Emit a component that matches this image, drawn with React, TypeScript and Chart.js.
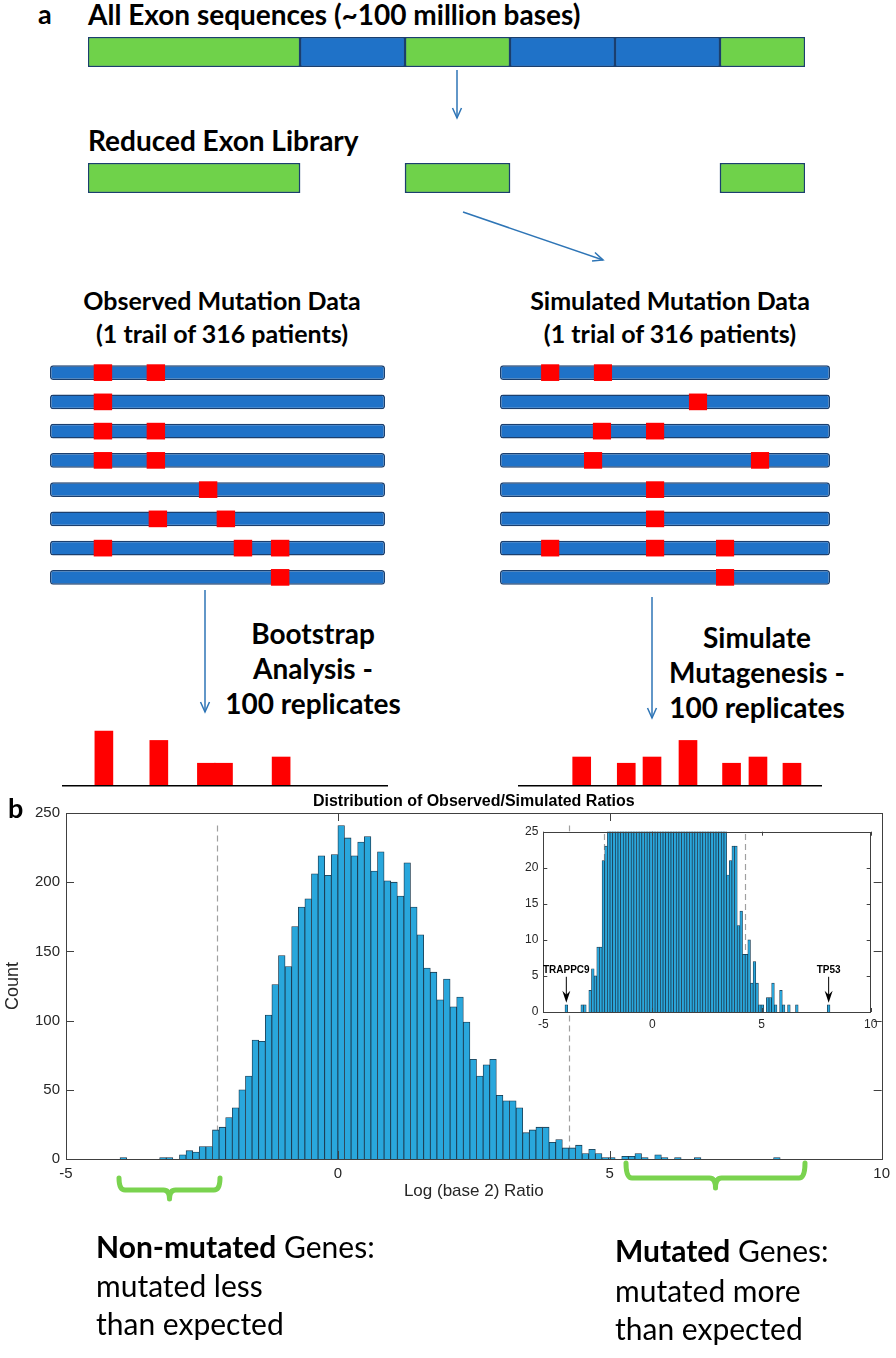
import React, { useEffect, useRef } from "react";
import { Chart, registerables } from "chart.js";
Chart.register(...registerables);

const FONT_PLOT = "'Liberation Sans', Arial, Helvetica, sans-serif";
const FONT_DIAG = "Lato, 'Open Sans', sans-serif";

// ---------- Panel a data ----------
const exonSegmentLengths = [2.02, 1, 1, 1, 1, 0.81];
const exonSegmentKept = [true, false, true, false, false, true];
const patientRows = ["1", "2", "3", "4", "5", "6", "7", "8"];
const observedMutations = [
  [15.8, 31.6], [15.8], [15.8, 31.6], [15.8, 31.6], [47.2], [32.2, 52.5], [15.8, 57.6, 68.7], [68.7],
];
const simulatedMutations = [
  [15.2, 31.2], [60], [30.9, 47], [28.2, 78.8], [47], [47], [15.2, 47, 68.2], [68.2],
];
const mutationWidth = 5.5;
const bootstrapPositions = [16.1, 32.5, 46.7, 51.8, 69];
const bootstrapHeights = [52, 43, 21, 21, 27];
const simulatedPositions = [24.8, 38.3, 46.1, 57, 70.2, 78.2, 88.5];
const simulatedHeights = [27, 21, 27, 43, 21, 27, 21];

// ---------- Panel b data ----------
const histBinStart = -4.0062;
const histBinWidth = 0.1214;
const histCounts = [
  1, 0, 0, 0, 0, 0, 1, 1, 0, 3,
  6, 5, 9, 9, 21, 23, 30, 37, 50, 60,
  86, 85, 104, 126, 147, 139, 168, 182, 188, 206,
  219, 205, 220, 241, 232, 219, 229, 233, 208, 222,
  201, 200, 190, 214, 182, 162, 138, 135, 115, 130,
  110, 117, 99, 72, 60, 68, 72, 46, 42, 42,
  37, 19, 21, 23, 23, 12, 14, 8, 8, 10,
  4, 7, 4, 1, 1, 0, 2, 2, 4, 1,
  0, 3, 1, 0, 1, 0, 0, 1, 0, 0,
  0, 0, 0, 0, 0, 0, 0, 0, 0, 1,
];
const thresholds = [-2.225, 4.25];
const thresholdTop = 241;
const xTickValues = [-5, 0, 5, 10];
const yTicksMain = [0, 50, 100, 150, 200, 250];
const yTicksInset = [0, 5, 10, 15, 20, 25];
const insetGenes = ["TRAPPC9", "TP53"];
const insetGeneBins = [0, 99];

const GREEN = "#6fd24a";
const BLUE = "#1f72c8";
const DARK = "#1b3f6e";
const RED = "#ff0000";
const ARROW = "#2e75b6";
const BAR = "#29a7dc";
const BAR_EDGE = "#1b3346";
const AX = "#404040";

const binCenters = histCounts.map((_, i) => histBinStart + (i + 0.5) * histBinWidth);

function ChartCanvas({ left, top, width, height, make }: any) {
  const ref = useRef<HTMLCanvasElement>(null);
  useEffect(() => {
    const chart = new Chart(ref.current as HTMLCanvasElement, make());
    return () => chart.destroy();
  }, []);
  return (
    <canvas
      ref={ref}
      width={width}
      height={height}
      style={{ position: "absolute", left, top, width, height }}
    />
  );
}

const baseOpts = {
  animation: false,
  responsive: false,
  events: [],
  plugins: { legend: { display: false }, tooltip: { enabled: false }, title: { display: false } },
};

function exonConfig(reduced: boolean) {
  const total = exonSegmentLengths.reduce((a, b) => a + b, 0);
  return {
    type: "bar",
    data: {
      labels: ["exons"],
      datasets: exonSegmentLengths.map((len, i) => {
        const show = exonSegmentKept[i] || !reduced;
        return {
          data: [len],
          backgroundColor: show ? (exonSegmentKept[i] ? GREEN : BLUE) : "rgba(0,0,0,0)",
          borderColor: DARK,
          borderWidth: show ? 1.5 : 0,
          borderSkipped: false,
          barPercentage: 1,
          categoryPercentage: 1,
        };
      }),
    },
    options: {
      ...baseOpts,
      indexAxis: "y",
      layout: { padding: 0 },
      scales: {
        x: { stacked: true, display: false, min: 0, max: total, offset: false },
        y: { stacked: true, display: false },
      },
    },
  };
}

function rowsConfig(mutations: number[][]) {
  const mutData: any[] = [];
  mutations.forEach((list, r) =>
    list.forEach((c) => mutData.push({ y: patientRows[r], x: [c - mutationWidth / 2, c + mutationWidth / 2] }))
  );
  return {
    type: "bar",
    data: {
      labels: patientRows,
      datasets: [
        {
          data: mutData,
          backgroundColor: RED,
          borderWidth: 0,
          barPercentage: 1,
          categoryPercentage: 0.57,
          grouped: false,
          order: 0,
        },
        {
          data: patientRows.map((r) => ({ y: r, x: [0, 100] })),
          backgroundColor: BLUE,
          borderColor: DARK,
          borderWidth: 1.5,
          borderRadius: 3,
          borderSkipped: false,
          barPercentage: 1,
          categoryPercentage: 0.5,
          grouped: false,
          order: 1,
        },
      ],
    },
    options: {
      ...baseOpts,
      indexAxis: "y",
      layout: { padding: 0 },
      scales: {
        x: { type: "linear", display: false, min: 0, max: 100, offset: false },
        y: { type: "category", display: false },
      },
    },
  };
}

const baselinePlugin = {
  id: "baseline",
  afterDraw(chart: any) {
    const { ctx, chartArea, width } = chart;
    ctx.save();
    ctx.strokeStyle = "#000";
    ctx.lineWidth = 1.5;
    ctx.beginPath();
    ctx.moveTo(0, chartArea.bottom + 0.75);
    ctx.lineTo(width, chartArea.bottom + 0.75);
    ctx.stroke();
    ctx.restore();
  },
};

function smallBarsConfig(pos: number[], h: number[], min: number, max: number) {
  return {
    type: "bar",
    data: {
      datasets: [
        {
          data: pos.map((x, i) => ({ x, y: h[i] })),
          backgroundColor: RED,
          borderWidth: 0,
          barThickness: 18,
        },
      ],
    },
    options: {
      ...baseOpts,
      layout: { padding: { top: 0, bottom: 2, left: 0, right: 0 } },
      scales: {
        x: { type: "linear", display: false, min, max, offset: false },
        y: { display: false, min: 0, max: 55 },
      },
    },
    plugins: [baselinePlugin],
  };
}

function drawBoxTicks(chart: any, xt: number[], yt: number[], len: number) {
  const { ctx, chartArea: a, scales } = chart;
  ctx.save();
  ctx.strokeStyle = AX;
  ctx.lineWidth = 1;
  ctx.strokeRect(Math.round(a.left) + 0.5, Math.round(a.top) + 0.5, Math.round(a.right - a.left), Math.round(a.bottom - a.top));
  ctx.beginPath();
  xt.forEach((v) => {
    const px = Math.round(scales.x.getPixelForValue(v)) + 0.5;
    ctx.moveTo(px, a.bottom);
    ctx.lineTo(px, a.bottom - len);
    ctx.moveTo(px, a.top);
    ctx.lineTo(px, a.top + len);
  });
  yt.forEach((v) => {
    const py = Math.round(scales.y.getPixelForValue(v)) + 0.5;
    ctx.moveTo(a.left, py);
    ctx.lineTo(a.left + len, py);
    ctx.moveTo(a.right, py);
    ctx.lineTo(a.right - len, py);
  });
  ctx.stroke();
  ctx.restore();
}

function drawThresholds(chart: any) {
  const { ctx, chartArea: a, scales } = chart;
  ctx.save();
  ctx.beginPath();
  ctx.rect(a.left, a.top, a.right - a.left, a.bottom - a.top);
  ctx.clip();
  ctx.strokeStyle = "#a0a0a0";
  ctx.lineWidth = 1.2;
  ctx.setLineDash([6, 4]);
  thresholds.forEach((t) => {
    const px = Math.round(scales.x.getPixelForValue(t)) + 0.5;
    ctx.beginPath();
    ctx.moveTo(px, scales.y.getPixelForValue(thresholdTop));
    ctx.lineTo(px, scales.y.getPixelForValue(0));
    ctx.stroke();
  });
  ctx.restore();
}

function histDataset(borderWidth: number) {
  return {
    data: histCounts.map((c, i) => ({ x: binCenters[i], y: c })),
    backgroundColor: BAR,
    borderColor: BAR_EDGE,
    borderWidth,
    barPercentage: 1,
    categoryPercentage: 1,
  };
}

function tickFixer(values: number[]) {
  return (s: any) => {
    s.ticks = values.map((v) => ({ value: v }));
  };
}

function mainConfig() {
  return {
    type: "bar",
    data: { datasets: [histDataset(0.8)] },
    options: {
      ...baseOpts,
      layout: { padding: { top: 25, right: 10, left: 0, bottom: 0 } },
      scales: {
        x: {
          type: "linear",
          min: -5,
          max: 10,
          offset: false,
          afterBuildTicks: tickFixer(xTickValues),
          grid: { display: false, drawTicks: false, tickLength: 0, offset: false },
          border: { display: false },
          ticks: { font: { family: FONT_PLOT, size: 15 }, color: "#262626", padding: 6, maxRotation: 0, autoSkip: false },
          title: { display: true, text: "Log (base 2) Ratio", font: { family: FONT_PLOT, size: 17 }, color: "#262626", padding: 0 },
          afterFit: (s: any) => { s.height = 43; },
        },
        y: {
          min: 0,
          max: 250,
          afterBuildTicks: tickFixer(yTicksMain),
          grid: { display: false, drawTicks: false, tickLength: 0 },
          border: { display: false },
          ticks: { font: { family: FONT_PLOT, size: 15 }, color: "#262626", padding: 6 },
          title: { display: true, text: "Count", font: { family: FONT_PLOT, size: 18 }, color: "#262626", padding: { top: 2, bottom: 2 } },
          afterFit: (s: any) => { s.width = 66; },
        },
      },
    },
    plugins: [
      {
        id: "mainDeco",
        beforeDatasetsDraw(chart: any) { drawThresholds(chart); },
        afterDraw(chart: any) {
          drawBoxTicks(chart, xTickValues, yTicksMain, 8);
          const { ctx, chartArea: a } = chart;
          ctx.save();
          ctx.fillStyle = "#000";
          ctx.font = `bold 16px ${FONT_PLOT}`;
          ctx.textAlign = "center";
          ctx.textBaseline = "middle";
          ctx.fillText("Distribution of Observed/Simulated Ratios", (a.left + a.right) / 2, a.top - 11);
          ctx.restore();
        },
      },
    ],
  };
}

function insetConfig() {
  return {
    type: "bar",
    data: { datasets: [histDataset(0.7)] },
    options: {
      ...baseOpts,
      layout: { padding: { top: 13.7, right: 14.3, left: 0, bottom: 0 } },
      scales: {
        x: {
          type: "linear",
          min: -5,
          max: 10,
          offset: false,
          afterBuildTicks: tickFixer(xTickValues),
          grid: { display: false, drawTicks: false, tickLength: 0, offset: false },
          border: { display: false },
          ticks: { font: { family: FONT_PLOT, size: 12 }, color: "#262626", padding: 5, maxRotation: 0, autoSkip: false },
          afterFit: (s: any) => { s.height = 28; },
        },
        y: {
          min: 0,
          max: 25,
          afterBuildTicks: tickFixer(yTicksInset),
          grid: { display: false, drawTicks: false, tickLength: 0 },
          border: { display: false },
          ticks: { font: { family: FONT_PLOT, size: 12 }, color: "#262626", padding: 5 },
          afterFit: (s: any) => { s.width = 43.3; },
        },
      },
    },
    plugins: [
      {
        id: "insetDeco",
        beforeDraw(chart: any) {
          const { ctx, chartArea: a } = chart;
          ctx.save();
          ctx.fillStyle = "#fff";
          ctx.fillRect(a.left, a.top, a.right - a.left, a.bottom - a.top);
          ctx.restore();
        },
        beforeDatasetsDraw(chart: any) { drawThresholds(chart); },
        afterDraw(chart: any) {
          drawBoxTicks(chart, xTickValues, yTicksInset, 4);
          const { ctx, scales } = chart;
          ctx.save();
          insetGenes.forEach((g, k) => {
            const i = insetGeneBins[k];
            const px = scales.x.getPixelForValue(binCenters[i]);
            const py = scales.y.getPixelForValue(histCounts[i]);
            const tip = py - 2;
            ctx.strokeStyle = "#000";
            ctx.fillStyle = "#000";
            ctx.lineWidth = 1;
            ctx.beginPath();
            ctx.moveTo(px, tip - 26);
            ctx.lineTo(px, tip - 6);
            ctx.stroke();
            ctx.beginPath();
            ctx.moveTo(px, tip);
            ctx.lineTo(px - 4, tip - 12);
            ctx.lineTo(px, tip - 8);
            ctx.lineTo(px + 4, tip - 12);
            ctx.closePath();
            ctx.fill();
            ctx.font = `bold 10px ${FONT_PLOT}`;
            ctx.textAlign = "center";
            ctx.textBaseline = "middle";
            ctx.fillText(g, px, tip - 33);
          });
          ctx.restore();
        },
      },
    ],
  };
}

function T({ x, y, size, bold, align, children, lh }: any) {
  const lineH = lh || Math.round(size * 1.2);
  const style: any = {
    position: "absolute",
    top: y - lineH / 2,
    fontFamily: FONT_DIAG,
    fontSize: size,
    fontWeight: bold ? 700 : 400,
    lineHeight: `${lineH}px`,
    whiteSpace: "nowrap",
    color: "#000",
  };
  if (align === "center") {
    style.left = x - 300;
    style.width = 600;
    style.textAlign = "center";
  } else {
    style.left = x;
  }
  return <div style={style}>{children}</div>;
}

function Arrow({ x1, y1, x2, y2 }: any) {
  const a = Math.atan2(y2 - y1, x2 - x1);
  const L = 11;
  const s = 0.42;
  const p1 = `${x2 - L * Math.cos(a - s)},${y2 - L * Math.sin(a - s)}`;
  const p2 = `${x2 - L * Math.cos(a + s)},${y2 - L * Math.sin(a + s)}`;
  return (
    <g stroke={ARROW} strokeWidth={1.5} fill="none">
      <line x1={x1} y1={y1} x2={x2} y2={y2} />
      <polyline points={`${p1} ${x2},${y2} ${p2}`} />
    </g>
  );
}

function brace(x1: number, x2: number, y0: number, y1: number, y2: number) {
  const xm = (x1 + x2) / 2;
  const r = 6;
  return `M ${x1} ${y0} Q ${x1} ${y1} ${x1 + r} ${y1} L ${xm - r} ${y1} Q ${xm} ${y1} ${xm} ${y2} Q ${xm} ${y1} ${xm + r} ${y1} L ${x2 - r} ${y1} Q ${x2} ${y1} ${x2} ${y0}`;
}

export default function App() {
  return (
    <div style={{ position: "absolute", left: 0, top: 0, width: 896, height: 1358, background: "#fff", overflow: "hidden" }}>
      {/* Panel a */}
      <T x={38} y={14} size={27} bold>a</T>
      <T x={88} y={14} size={28} bold>All Exon sequences (~100 million bases)</T>
      <ChartCanvas left={88} top={37} width={717} height={30} make={() => exonConfig(false)} />
      <T x={88} y={140} size={28} bold>Reduced Exon Library</T>
      <ChartCanvas left={88} top={163} width={717} height={30} make={() => exonConfig(true)} />

      <T x={222} y={300} size={25} bold align="center">Observed Mutation Data</T>
      <T x={222} y={333} size={25} bold align="center">(1 trail of 316 patients)</T>
      <T x={670} y={300} size={25} bold align="center">Simulated Mutation Data</T>
      <T x={670} y={333} size={25} bold align="center">(1 trial of 316 patients)</T>

      <ChartCanvas left={50} top={358} width={335} height={234} make={() => rowsConfig(observedMutations)} />
      <ChartCanvas left={500} top={358} width={330} height={234} make={() => rowsConfig(simulatedMutations)} />

      <T x={313} y={633} size={28} bold align="center">Bootstrap</T>
      <T x={313} y={668} size={28} bold align="center">Analysis -</T>
      <T x={313} y={703} size={28} bold align="center">100 replicates</T>
      <T x={757} y={637} size={28} bold align="center">Simulate</T>
      <T x={757} y={672} size={28} bold align="center">Mutagenesis -</T>
      <T x={757} y={707} size={28} bold align="center">100 replicates</T>

      <ChartCanvas left={62} top={728} width={326} height={59} make={() => smallBarsConfig(bootstrapPositions, bootstrapHeights, 3.6, 100.9)} />
      <ChartCanvas left={518} top={728} width={304} height={59} make={() => smallBarsConfig(simulatedPositions, simulatedHeights, 5.5, 97.6)} />

      <svg width={896} height={1358} style={{ position: "absolute", left: 0, top: 0, pointerEvents: "none" }}>
        <Arrow x1={457} y1={70} x2={457} y2={118} />
        <Arrow x1={463} y1={212} x2={603} y2={260} />
        <Arrow x1={205} y1={590} x2={205} y2={712} />
        <Arrow x1={652} y1={597} x2={652} y2={718} />
      </svg>

      {/* Panel b */}
      <T x={8} y={808} size={27} bold>b</T>
      <ChartCanvas left={0} top={788} width={896} height={414} make={mainConfig} />
      <ChartCanvas left={500} top={818} width={385} height={222} make={insetConfig} />

      <svg width={896} height={1358} style={{ position: "absolute", left: 0, top: 0, pointerEvents: "none" }}>
        <path d={brace(119, 220, 1178, 1190, 1199)} stroke="#7ad34f" strokeWidth={5} fill="none" strokeLinecap="round" strokeLinejoin="round" />
        <path d={brace(626, 805, 1163, 1178, 1188)} stroke="#7ad34f" strokeWidth={5} fill="none" strokeLinecap="round" strokeLinejoin="round" />
      </svg>

      <T x={96} y={1246} size={30} lh={38}><b>Non-mutated</b> Genes:</T>
      <T x={96} y={1285} size={30} lh={38}>mutated less</T>
      <T x={96} y={1323} size={30} lh={38}>than expected</T>
      <T x={615} y={1250} size={30} lh={38}><b>Mutated</b> Genes:</T>
      <T x={615} y={1290} size={30} lh={38}>mutated more</T>
      <T x={615} y={1328} size={30} lh={38}>than expected</T>
    </div>
  );
}
